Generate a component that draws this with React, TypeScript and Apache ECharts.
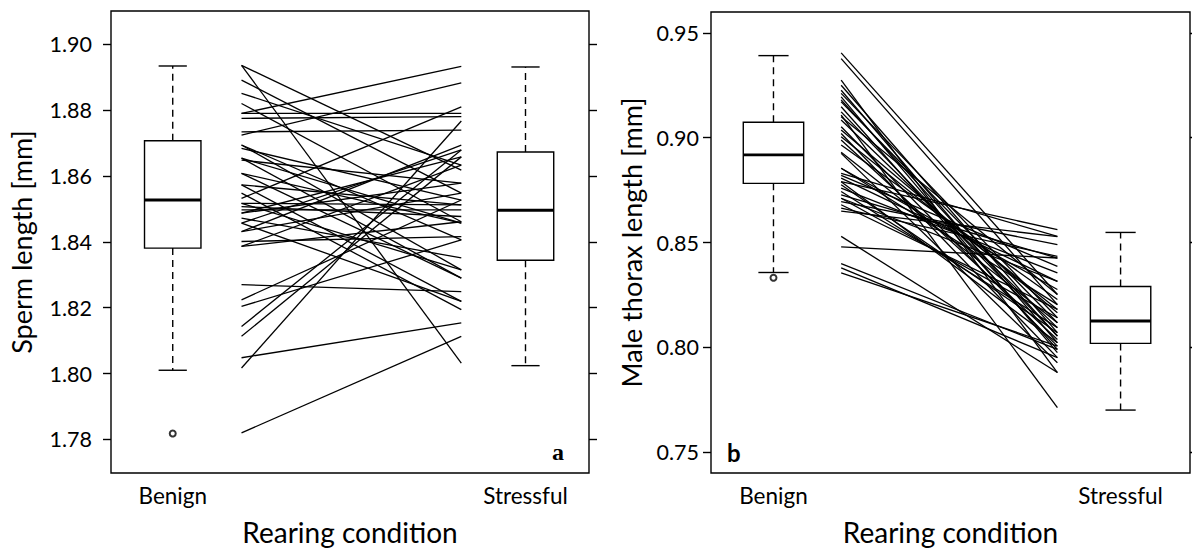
import React, { useEffect, useRef } from "react";
import * as echarts from "echarts";

// ---------- data ----------
const conditions = ["Benign", "Stressful"];

// Panel a: sperm length [mm], paired family means (benign, stressful)
const spermBenign = [
  1.8936, 1.8936, 1.8891, 1.8851, 1.882, 1.879, 1.879, 1.8775, 1.8734, 1.8724,
  1.8694, 1.8684, 1.8654, 1.8648, 1.8608, 1.8573, 1.8548, 1.8532, 1.8517, 1.8507,
  1.8497, 1.8487, 1.8472, 1.8457, 1.8431, 1.8401, 1.8386, 1.8386, 1.827, 1.8224,
  1.8204, 1.8143, 1.8113, 1.8048, 1.8017, 1.782, 1.8694, 1.8654, 1.8573, 1.8517,
  1.8487, 1.8457, 1.8608, 1.8431,
];
const spermStressful = [
  1.8032, 1.8618, 1.8548, 1.8633, 1.8461, 1.8933, 1.879, 1.878, 1.8739, 1.8883,
  1.8315, 1.8527, 1.829, 1.8578, 1.8457, 1.8219, 1.8194, 1.881, 1.8512, 1.8477,
  1.8497, 1.8658, 1.8351, 1.8679, 1.8694, 1.8416, 1.8633, 1.8461, 1.8249, 1.8527,
  1.8406, 1.8679, 1.8658, 1.8154, 1.8767, 1.8113, 1.8406, 1.8457, 1.8512, 1.8315,
  1.8578, 1.8219, 1.829, 1.8548,
];
// boxplot stats: [lower whisker, Q1, median, Q3, upper whisker]
const spermBoxBenign = [1.801, 1.8381, 1.8527, 1.8707, 1.8934];
const spermBoxStressful = [1.8024, 1.8344, 1.8496, 1.8673, 1.8931];
const spermOutliersBenign = [1.7818];
const spermTicks = [1.78, 1.8, 1.82, 1.84, 1.86, 1.88, 1.9];

// Panel b: male thorax length [mm]
const thoraxBenign = [
  0.9404, 0.9377, 0.9274, 0.925, 0.9226, 0.9211, 0.9194, 0.9171, 0.9147, 0.9123,
  0.9107, 0.9084, 0.9052, 0.9036, 0.902, 0.9004, 0.8989, 0.8965, 0.8925, 0.8854,
  0.883, 0.8807, 0.879, 0.8775, 0.8759, 0.8743, 0.8727, 0.8711, 0.8695, 0.868,
  0.8664, 0.8529, 0.8479, 0.8399, 0.8379, 0.8355, 0.8854, 0.893, 0.91, 0.879,
  0.882, 0.8711, 0.865, 0.918,
];
const thoraxStressful = [
  0.8252, 0.8204, 0.788, 0.807, 0.8022, 0.8141, 0.7975, 0.8117, 0.799, 0.8054,
  0.7713, 0.8094, 0.8006, 0.8165, 0.7951, 0.8181, 0.8038, 0.8228, 0.7927, 0.8276,
  0.8529, 0.8315, 0.8561, 0.807, 0.8355, 0.8094, 0.8426, 0.8141, 0.849, 0.8181,
  0.8434, 0.788, 0.8426, 0.799, 0.7951, 0.8006, 0.8204, 0.8117, 0.8252, 0.8022,
  0.8386, 0.8315, 0.8528, 0.8054,
];
const thoraxBoxBenign = [0.8357, 0.8782, 0.8918, 0.9073, 0.9391];
const thoraxBoxStressful = [0.7701, 0.8019, 0.8126, 0.829, 0.8548];
const thoraxOutliersBenign = [0.8332];
const thoraxTicks = [0.75, 0.8, 0.85, 0.9, 0.95];

// ---------- helpers ----------
const FONT = "Lato";
const LW = 1.4;
const PAIR_X0 = 1.195;
const PAIR_X1 = 1.818;

function boxSeries(gridIdx: number, halfW: number, boxes: number[][]) {
  return {
    type: "custom",
    xAxisIndex: gridIdx,
    yAxisIndex: gridIdx * 2,
    data: boxes.map((b, i) => [i + 1, ...b]),
    z: 5,
    renderItem: (params: any, api: any) => {
      const x = api.value(0);
      const pMin = api.coord([x, api.value(1)]);
      const pQ1 = api.coord([x, api.value(2)]);
      const pMed = api.coord([x, api.value(3)]);
      const pQ3 = api.coord([x, api.value(4)]);
      const pMax = api.coord([x, api.value(5)]);
      const hw = api.size([halfW, 0])[0];
      const cx = pMed[0];
      const dash = { stroke: "#000", lineWidth: LW, lineDash: [7, 5] };
      const solid = { stroke: "#000", lineWidth: LW };
      return {
        type: "group",
        children: [
          { type: "line", shape: { x1: cx, y1: pQ3[1], x2: cx, y2: pMax[1] }, style: dash },
          { type: "line", shape: { x1: cx, y1: pQ1[1], x2: cx, y2: pMin[1] }, style: dash },
          { type: "line", shape: { x1: cx - hw / 2, y1: pMax[1], x2: cx + hw / 2, y2: pMax[1] }, style: solid },
          { type: "line", shape: { x1: cx - hw / 2, y1: pMin[1], x2: cx + hw / 2, y2: pMin[1] }, style: solid },
          {
            type: "rect",
            shape: { x: cx - hw, y: pQ3[1], width: hw * 2, height: pQ1[1] - pQ3[1] },
            style: { fill: "#fff", stroke: "#000", lineWidth: LW },
          },
          { type: "line", shape: { x1: cx - hw, y1: pMed[1], x2: cx + hw, y2: pMed[1] }, style: { stroke: "#000", lineWidth: 2.9 } },
        ],
      };
    },
  };
}

function pairSeries(gridIdx: number, left: number[], right: number[]) {
  return {
    type: "custom",
    xAxisIndex: gridIdx,
    yAxisIndex: gridIdx * 2,
    data: left.map((v, i) => [v, right[i]]),
    z: 3,
    renderItem: (params: any, api: any) => {
      const p1 = api.coord([PAIR_X0, api.value(0)]);
      const p2 = api.coord([PAIR_X1, api.value(1)]);
      return {
        type: "line",
        shape: { x1: p1[0], y1: p1[1], x2: p2[0], y2: p2[1] },
        style: { stroke: "#000", lineWidth: 1.3 },
      };
    },
  };
}

function outlierSeries(gridIdx: number, vals: number[]) {
  return {
    type: "scatter",
    xAxisIndex: gridIdx,
    yAxisIndex: gridIdx * 2,
    data: vals.map((v) => [1, v]),
    symbol: "emptyCircle",
    symbolSize: 6,
    itemStyle: { color: "#000", borderColor: "#000", borderWidth: 1.4 },
    z: 6,
  };
}

function xAxisDef(gridIdx: number, min: number, max: number) {
  return {
    gridIndex: gridIdx,
    type: "value",
    min,
    max,
    axisLine: { show: false },
    axisTick: { show: false },
    splitLine: { show: false },
    axisLabel: {
      customValues: [1, 2],
      formatter: (v: number) => conditions[Math.round(v) - 1] || "",
      color: "#000",
      fontFamily: FONT,
      fontSize: 22.5,
      margin: 11,
    },
    name: "Rearing condition",
    nameLocation: "middle",
    nameGap: 45,
    nameTextStyle: { color: "#000", fontFamily: FONT, fontSize: 28 },
  };
}

function yAxesDef(
  gridIdx: number,
  min: number,
  max: number,
  ticks: number[],
  name: string,
  labelMargin: number,
  nameGap: number
) {
  const common = {
    gridIndex: gridIdx,
    type: "value",
    min,
    max,
    axisLine: { show: false },
    splitLine: { show: false },
    axisTick: { show: true, inside: false, length: 8, customValues: ticks, lineStyle: { color: "#000", width: LW } },
  };
  return [
    {
      ...common,
      position: "left",
      axisLabel: {
        customValues: ticks,
        formatter: (v: number) => v.toFixed(2),
        color: "#000",
        fontFamily: FONT,
        fontSize: 21.5,
        margin: labelMargin,
      },
      name,
      nameLocation: "middle",
      nameGap,
      nameTextStyle: { color: "#000", fontFamily: FONT, fontSize: 27 },
    },
    {
      ...common,
      position: "right",
      axisLabel: { show: false },
    },
  ];
}

export default function App() {
  const ref = useRef<HTMLDivElement>(null);
  useEffect(() => {
    if (!ref.current) return;
    const chart = echarts.init(ref.current, undefined, { renderer: "svg" });
    const gridStyle = { show: true, borderColor: "#000", borderWidth: LW, backgroundColor: "transparent" };
    chart.setOption({
      animation: false,
      backgroundColor: "#fff",
      textStyle: { fontFamily: FONT },
      grid: [
        { ...gridStyle, left: 111, top: 11, width: 478, height: 463 },
        { ...gridStyle, left: 711, top: 12, width: 479, height: 462 },
      ],
      xAxis: [xAxisDef(0, 0.825, 2.18), xAxisDef(1, 0.82, 2.2)],
      yAxis: [
        ...yAxesDef(0, 1.7698, 1.9101, spermTicks, "Sperm length [mm]", 19, 76),
        ...yAxesDef(1, 0.7401, 0.9599, thoraxTicks, "Male thorax length [mm]", 12, 66),
      ],
      graphic: [
        { type: "text", left: 552, top: 440, style: { text: "a", font: "bold 24px 'Liberation Serif', serif", fill: "#000" } },
        { type: "text", left: 727, top: 440, style: { text: "b", font: "bold 24px Lato, sans-serif", fill: "#000" } },
      ],
      series: [
        pairSeries(0, spermBenign, spermStressful),
        boxSeries(0, 0.08, [spermBoxBenign, spermBoxStressful]),
        outlierSeries(0, spermOutliersBenign),
        pairSeries(1, thoraxBenign, thoraxStressful),
        boxSeries(1, 0.087, [thoraxBoxBenign, thoraxBoxStressful]),
        outlierSeries(1, thoraxOutliersBenign),
      ],
    });
    return () => chart.dispose();
  }, []);
  return (
    <div
      ref={ref}
      style={{ position: "fixed", left: 0, top: 0, width: 1192, height: 551, background: "#fff" }}
    />
  );
}
